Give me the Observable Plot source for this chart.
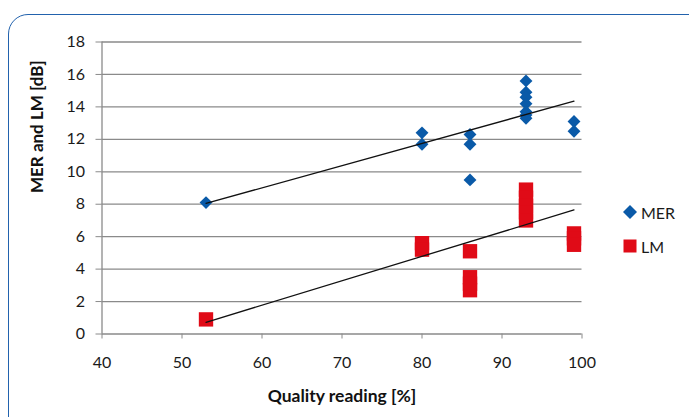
<!DOCTYPE html>
<html>
<head>
<meta charset="utf-8">
<script src="https://cdn.jsdelivr.net/npm/d3@7"></script>
<script src="https://cdn.jsdelivr.net/npm/@observablehq/plot@0.6"></script>
<style>
  html, body { margin: 0; padding: 0; background: #fff; }
  body { width: 689px; height: 417px; overflow: hidden; position: relative; font-family: Lato, "Open Sans", sans-serif; }
  #chart { position: absolute; left: 0; top: 0; }
  .frame { position: absolute; left: 8px; top: 14px; width: 740px; height: 460px; border: 1.5px solid #2262ad; border-radius: 20px; pointer-events: none; }
  .legend { position: absolute; left: 622px; top: 200px; font-size: 16px; color: #1a1a1a; }
  .legend .item { display: flex; align-items: center; height: 24px; margin-bottom: 10px; }
  .legend svg { margin-right: 3px; }
</style>
</head>
<body>
<div id="chart"></div>
<div class="frame"></div>
<div class="legend" id="legend"></div>
<script>
// ---- data ----
const merX = [53, 80, 80, 86, 86, 86, 93, 93, 93, 93, 93, 93, 93, 99, 99];
const merY = [8.1, 12.4, 11.7, 12.3, 11.7, 9.5, 15.6, 14.9, 14.6, 14.2, 13.7, 13.5, 13.3, 13.1, 12.5];
const lmX = [53, 80, 80, 86, 86, 86, 86, 93, 93, 93, 93, 93, 99, 99, 99];
const lmY = [0.9, 5.6, 5.2, 5.1, 3.5, 3.1, 2.7, 8.9, 8.4, 7.9, 7.5, 7.0, 6.2, 5.9, 5.5];
// trend line end points (linear trend lines as drawn)
const merTrendX = [53, 99];
const merTrendY = [8.05, 14.35];
const lmTrendX = [53, 99];
const lmTrendY = [0.72, 7.65];
const xTicks = [40, 50, 60, 70, 80, 90, 100];
const yTicks = [0, 2, 4, 6, 8, 10, 12, 14, 16, 18];
const seriesNames = ["MER", "LM"];
const xTitle = "Quality reading [%]";
const yTitle = "MER and LM [dB]";

const merColor = "#0a5aa8";
const lmColor = "#e00b17";
const gridColor = "#8a8a8a";

const mer = merX.map((x, i) => ({x, y: merY[i]}));
const lm = lmX.map((x, i) => ({x, y: lmY[i]}));
const merTrend = merTrendX.map((x, i) => ({x, y: merTrendY[i]}));
const lmTrend = lmTrendX.map((x, i) => ({x, y: lmTrendY[i]}));

const chart = Plot.plot({
  width: 689,
  height: 417,
  marginLeft: 101.5,
  marginRight: 107.5,
  marginTop: 41.5,
  marginBottom: 83.5,
  style: {fontFamily: "Lato, 'Open Sans', sans-serif", fontSize: "16px", color: "#1a1a1a", background: "transparent"},
  x: {domain: [40, 100]},
  y: {domain: [0, 18]},
  marks: [
    Plot.ruleY(yTicks, {stroke: gridColor, strokeWidth: 1.3}),
    Plot.ruleX([40], {stroke: gridColor, strokeWidth: 1.3}),
    Plot.axisX({ticks: xTicks, tickSize: 5, tickPadding: 18, stroke: gridColor, label: null, fontSize: 16}),
    Plot.axisY({ticks: yTicks, tickSize: 6, tickPadding: 11, stroke: gridColor, label: null, fontSize: 16}),
    Plot.dot(lm, {x: "x", y: "y", symbol: "square", r: 8.1, fill: lmColor, stroke: "none"}),
    Plot.dot(mer, {x: "x", y: "y", symbol: "diamond2", r: 5.8, fill: merColor, stroke: "none"}),
    Plot.line(merTrend, {x: "x", y: "y", stroke: "#111", strokeWidth: 1.3}),
    Plot.line(lmTrend, {x: "x", y: "y", stroke: "#111", strokeWidth: 1.3}),
    Plot.text([xTitle], {frameAnchor: "bottom", dy: 68, fontWeight: "bold", fontSize: 17.5, fill: "#111"}),
    Plot.text([yTitle], {frameAnchor: "left", dx: -64, dy: 5, rotate: -90, fontWeight: "bold", fontSize: 17, fill: "#111"})
  ]
});
document.getElementById("chart").appendChild(chart);

// legend
const legend = document.getElementById("legend");
const symbols = {
  MER: `<svg width="16" height="16" viewBox="0 0 16 16"><path d="M8 1 L15 8 L8 15 L1 8 Z" fill="${merColor}"/></svg>`,
  LM: `<svg width="16" height="16" viewBox="0 0 16 16"><rect x="1.5" y="1.5" width="13" height="13" fill="${lmColor}"/></svg>`
};
seriesNames.forEach(name => {
  const d = document.createElement("div");
  d.className = "item";
  d.innerHTML = symbols[name] + `<span>${name}</span>`;
  legend.appendChild(d);
});
</script>
</body>
</html>
